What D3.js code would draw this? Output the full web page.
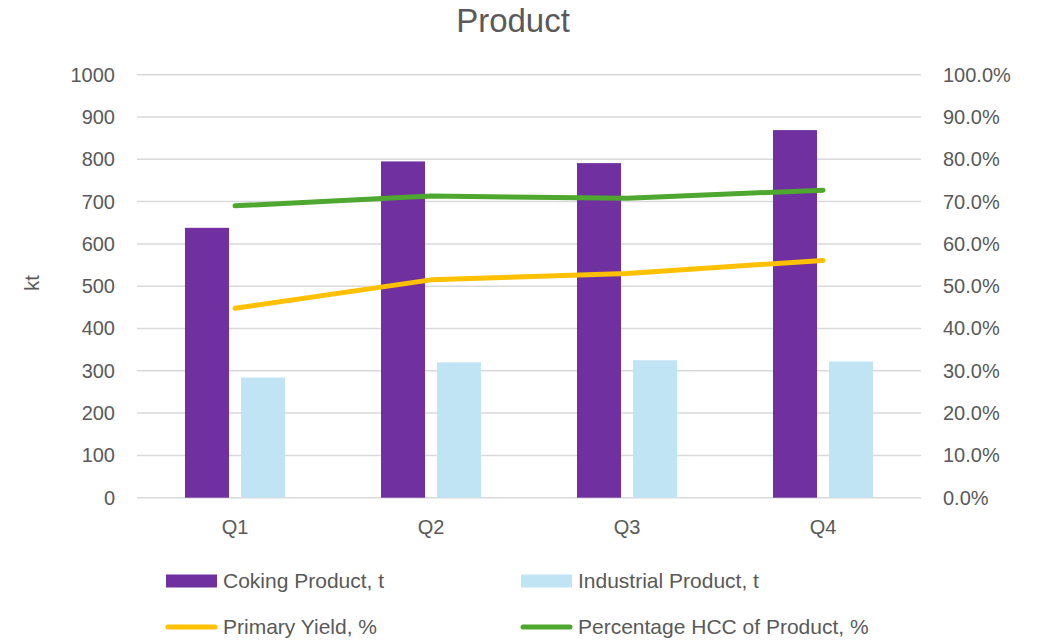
<!DOCTYPE html>
<html>
<head>
<meta charset="utf-8">
<script src="https://cdn.jsdelivr.net/npm/d3@7"></script>
<style>
  html, body { margin: 0; padding: 0; background: #fff; }
  svg { display: block; }
  text { fill: #595959; font-family: "Liberation Sans", Arial, sans-serif; }
</style>
</head>
<body>
<svg id="chart" width="1041" height="641"></svg>
<script>
// Quarterly product figures
const quarters = ["Q1", "Q2", "Q3", "Q4"];
const cokingProduct = [638, 795, 791, 869];        // kt
const industrialProduct = [284, 320, 325, 322];    // kt
const primaryYield = [0.448, 0.515, 0.530, 0.561];
const hccShare = [0.690, 0.713, 0.708, 0.727];
const leftTicks = [0, 100, 200, 300, 400, 500, 600, 700, 800, 900, 1000];
const rightTicks = [0, 0.1, 0.2, 0.3, 0.4, 0.5, 0.6, 0.7, 0.8, 0.9, 1.0];

const barSeries = [
  { name: "Coking Product, t", values: cokingProduct, color: "#7030A0" },
  { name: "Industrial Product, t", values: industrialProduct, color: "#C1E4F5" }
];
const lineSeries = [
  { name: "Primary Yield, %", values: primaryYield, color: "#FFC000" },
  { name: "Percentage HCC of Product, %", values: hccShare, color: "#4EA72E" }
];

const svg = d3.select("#chart");
const plot = { left: 137, right: 921, top: 74.7, bottom: 497.7 };

const x0 = d3.scaleBand().domain(quarters).range([plot.left, plot.right]).padding(0);
const x1 = d3.scaleBand().domain(barSeries.map(s => s.name))
  .range([0, x0.bandwidth()]).paddingInner(0.214).paddingOuter(0.857);
const yL = d3.scaleLinear().domain([0, 1000]).range([plot.bottom, plot.top]);
const yR = d3.scaleLinear().domain([0, 1]).range([plot.bottom, plot.top]);

// Gridlines
svg.append("g").selectAll("line").data(leftTicks).join("line")
  .attr("x1", plot.left).attr("x2", plot.right)
  .attr("y1", d => yL(d)).attr("y2", d => yL(d))
  .attr("stroke", "#d9d9d9").attr("stroke-width", 1.5);

// Left axis
const leftAxis = svg.append("g").attr("transform", `translate(${plot.left - 22},0)`)
  .call(d3.axisLeft(yL).tickValues(leftTicks).tickSize(0).tickPadding(0).tickFormat(d3.format("d")));
leftAxis.select(".domain").remove();
leftAxis.selectAll("text").attr("font-size", 20).attr("fill", "#595959")
  .style("font-family", '"Liberation Sans", Arial, sans-serif');

// Right axis
const rightAxis = svg.append("g").attr("transform", `translate(${plot.right + 22},0)`)
  .call(d3.axisRight(yR).tickValues(rightTicks).tickSize(0).tickPadding(0).tickFormat(d3.format(".1%")));
rightAxis.select(".domain").remove();
rightAxis.selectAll("text").attr("font-size", 20).attr("fill", "#595959")
  .style("font-family", '"Liberation Sans", Arial, sans-serif');

// Category axis
const bottomAxis = svg.append("g").attr("transform", `translate(0,${plot.bottom + 22})`)
  .call(d3.axisBottom(x0).tickSize(0).tickPadding(0));
bottomAxis.select(".domain").remove();
bottomAxis.selectAll("text").attr("font-size", 20).attr("fill", "#595959")
  .attr("dy", "0.71em")
  .style("font-family", '"Liberation Sans", Arial, sans-serif');

// Bars
const groups = svg.append("g").selectAll("g").data(quarters).join("g")
  .attr("transform", d => `translate(${x0(d)},0)`);
groups.selectAll("rect")
  .data((q, i) => barSeries.map(s => ({ key: s.name, value: s.values[i], color: s.color })))
  .join("rect")
  .attr("x", d => x1(d.key))
  .attr("width", x1.bandwidth())
  .attr("y", d => yL(d.value))
  .attr("height", d => yL(0) - yL(d.value))
  .attr("fill", d => d.color);

// Lines on the percentage axis
const line = d3.line()
  .x((d, i) => x0(quarters[i]) + x0.bandwidth() / 2)
  .y(d => yR(d));
svg.append("g").selectAll("path").data(lineSeries).join("path")
  .attr("d", s => line(s.values))
  .attr("fill", "none")
  .attr("stroke", s => s.color)
  .attr("stroke-width", 5)
  .attr("stroke-linecap", "round")
  .attr("stroke-linejoin", "round");

// Title
svg.append("text").attr("x", 513).attr("y", 32)
  .attr("text-anchor", "middle").attr("font-size", 33).text("Product");

// Left axis title
svg.append("text").attr("transform", "translate(39,283) rotate(-90)")
  .attr("text-anchor", "middle").attr("font-size", 20).text("kt");

// Legend
const legendItems = [
  { s: barSeries[0], type: "rect", x: 166, y: 581 },
  { s: barSeries[1], type: "rect", x: 521, y: 581 },
  { s: lineSeries[0], type: "line", x: 166, y: 627 },
  { s: lineSeries[1], type: "line", x: 521, y: 627 }
];
const legend = svg.append("g").attr("class", "legend");
legendItems.forEach(item => {
  const g = legend.append("g").attr("transform", `translate(${item.x},${item.y})`);
  if (item.type === "rect") {
    g.append("rect").attr("x", 0).attr("y", -6.5).attr("width", 51).attr("height", 13)
      .attr("fill", item.s.color);
  } else {
    g.append("line").attr("x1", 2).attr("x2", 49).attr("y1", 0).attr("y2", 0)
      .attr("stroke", item.s.color).attr("stroke-width", 5).attr("stroke-linecap", "round");
  }
  g.append("text").attr("x", 57).attr("y", 0).attr("dy", "0.35em")
    .attr("font-size", 21).text(item.s.name);
});
</script>
</body>
</html>
